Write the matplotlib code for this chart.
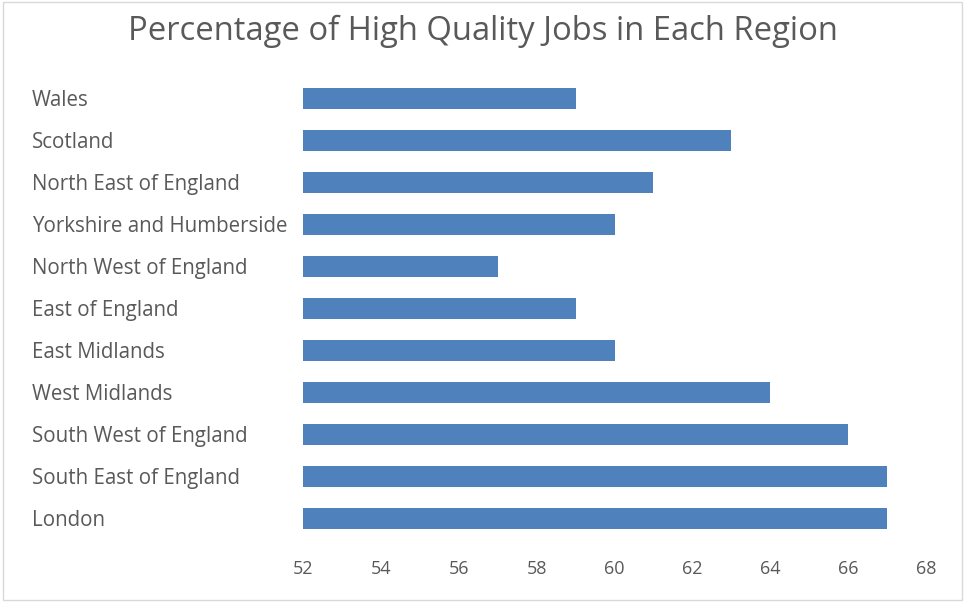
import matplotlib.pyplot as plt
from matplotlib.patches import Rectangle

regions = ['Wales', 'Scotland', 'North East of England', 'Yorkshire and Humberside',
           'North West of England', 'East of England', 'East Midlands', 'West Midlands',
           'South West of England', 'South East of England', 'London']
values = [59, 63, 61, 60, 57, 59, 60, 64, 66, 67, 67]
ticks = [52, 54, 56, 58, 60, 62, 64, 66, 68]

plt.rcParams['font.family'] = ['Open Sans', 'DejaVu Sans']
txt = '#595959'

fig = plt.figure(figsize=(9.65, 6.02), dpi=100)
fig.patches.append(Rectangle((0.003, 0.003), 0.994, 0.994, transform=fig.transFigure,
                             fill=False, edgecolor='#d9d9d9', linewidth=1))
ax = fig.add_axes([303 / 965, 1 - 539 / 602, (926 - 303) / 965, (539 - 77) / 602])

ypos = list(range(len(regions)))
ax.barh(ypos, [v - 52 for v in values], left=52, height=0.5, color='#4f81bd')
ax.set_xlim(52, 68)
ax.set_ylim(len(regions) - 0.5, -0.5)
ax.set_xticks(ticks)
ax.set_xticklabels([str(t) for t in ticks], color=txt, fontsize=13)
ax.set_yticks(ypos)
ax.set_yticklabels(regions, color=txt, fontsize=14.8, ha='left')
ax.tick_params(axis='y', length=0, pad=(303 - 32) * 0.72)
ax.tick_params(axis='x', length=0, pad=15)
for s in ax.spines.values():
    s.set_visible(False)

fig.text(0.5, 1 - 31 / 602, 'Percentage of High Quality Jobs in Each Region',
         ha='center', va='center', fontsize=23.6, color=txt)

fig.savefig('out.png', dpi=100)
